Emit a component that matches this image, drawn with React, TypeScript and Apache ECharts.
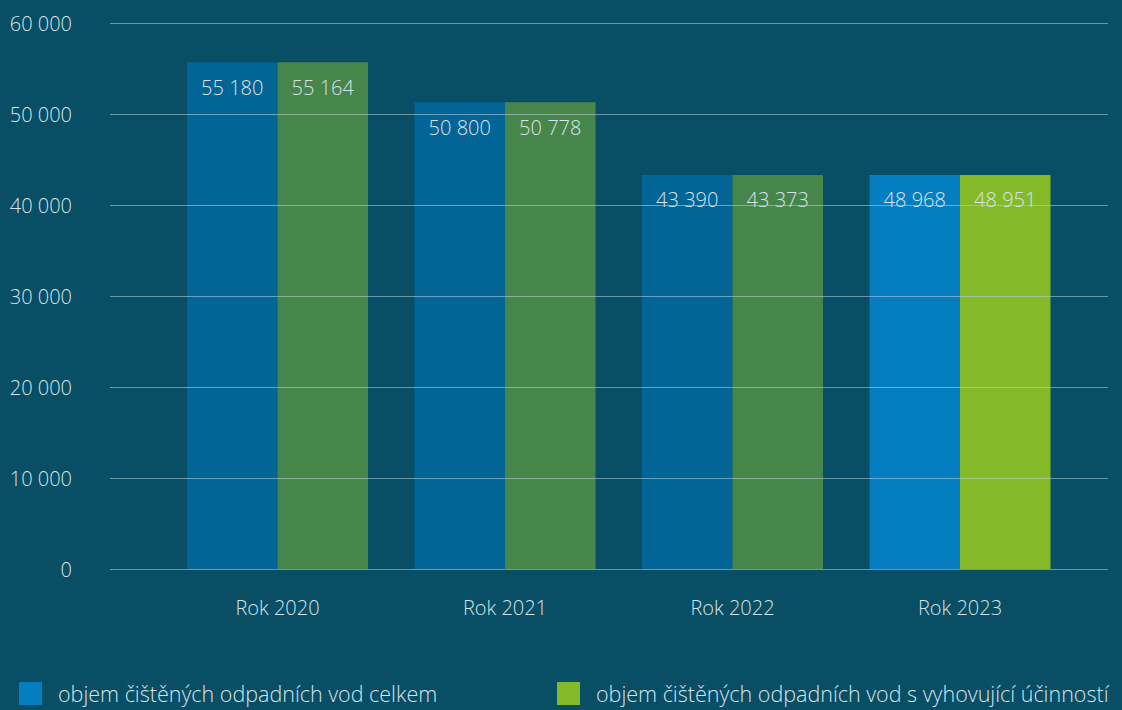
import React, { useEffect, useRef } from "react";
import * as echarts from "echarts";

const categories = ["Rok 2020", "Rok 2021", "Rok 2022", "Rok 2023"];
// printed values
const totalLabels = [55180, 50800, 43390, 48968];
const compliantLabels = [55164, 50778, 43373, 48951];
// bar heights as drawn in the picture
const totalHeights = [55700, 51300, 43300, 43300];
const compliantHeights = [55700, 51300, 43300, 43300];
const yTicks = [0, 10000, 20000, 30000, 40000, 50000, 60000];
const seriesNames = [
  "objem čištěných odpadních vod celkem",
  "objem čištěných odpadních vod s vyhovující účinností",
];

const BG = "#084e65";
const TEXT = "#d6e3ea";
const FONT = "'Open Sans', 'Noto Sans', sans-serif";
const blueOld = "#036496";
const greenOld = "#46864a";
const blueNew = "#047dc1";
const greenNew = "#84ba27";

const fmt = (v: number) => String(v).replace(/\B(?=(\d{3})+(?!\d))/g, " ");

export default function App() {
  const ref = useRef<HTMLDivElement>(null);
  useEffect(() => {
    const chart = echarts.init(ref.current!, null, { renderer: "svg" });
    const mk = (heights: number[], labels: number[], oldC: string, newC: string) =>
      heights.map((h, i) => ({
        value: h,
        label: { formatter: fmt(labels[i]) },
        itemStyle: { color: i === heights.length - 1 ? newC : oldC },
      }));
    const legendText = {
      color: TEXT,
      fontSize: 21.5,
      fontWeight: 300,
      fontFamily: FONT,
      lineHeight: 23,
      padding: [0, 0, 0, 11],
    };
    chart.setOption({
      animation: false,
      backgroundColor: BG,
      textStyle: { fontFamily: FONT },
      legend: [
        {
          left: 19,
          top: 682,
          padding: 0,
          itemWidth: 23,
          itemHeight: 23,
          icon: "rect",
          data: [{ name: seriesNames[0], itemStyle: { color: blueNew } }],
          textStyle: legendText,
          selectedMode: false,
        },
        {
          left: 557,
          top: 682,
          padding: 0,
          itemWidth: 23,
          itemHeight: 23,
          icon: "rect",
          data: [{ name: seriesNames[1], itemStyle: { color: greenNew } }],
          textStyle: legendText,
          selectedMode: false,
        },
      ],
      grid: [
        { left: 110, right: 14, top: 23, bottom: 141 },
        { left: 163.75, right: 48.25, top: 23, bottom: 141 },
      ],
      xAxis: [
        { gridIndex: 0, type: "category", data: [""], show: false },
        {
          gridIndex: 1,
          type: "category",
          data: categories,
          axisLine: { show: false },
          axisTick: { show: false },
          axisLabel: { color: TEXT, fontSize: 20, fontWeight: 300, fontFamily: FONT, margin: 28 },
        },
      ],
      yAxis: [
        {
          gridIndex: 0,
          type: "value",
          min: yTicks[0],
          max: yTicks[yTicks.length - 1],
          interval: yTicks[1] - yTicks[0],
          z: 10,
          axisLine: { show: false },
          axisTick: { show: false },
          splitLine: { lineStyle: { color: "rgba(190,210,220,0.55)", width: 1 } },
          axisLabel: {
            color: TEXT,
            fontSize: 20,
            fontWeight: 300,
            fontFamily: FONT,
            margin: 38,
            formatter: (v: number) => fmt(v),
          },
        },
        {
          gridIndex: 1,
          type: "value",
          min: yTicks[0],
          max: yTicks[yTicks.length - 1],
          show: false,
          splitLine: { show: false },
        },
      ],
      series: [
        {
          name: seriesNames[0],
          type: "bar",
          xAxisIndex: 1,
          yAxisIndex: 1,
          barWidth: 90.5,
          barGap: "0%",
          itemStyle: { color: blueNew },
          label: {
            show: true,
            position: "insideTop",
            distance: 15,
            color: TEXT,
            fontSize: 20,
            fontWeight: 300,
            fontFamily: FONT,
          },
          data: mk(totalHeights, totalLabels, blueOld, blueNew),
        },
        {
          name: seriesNames[1],
          type: "bar",
          xAxisIndex: 1,
          yAxisIndex: 1,
          barWidth: 90.5,
          barGap: "0%",
          itemStyle: { color: greenNew },
          label: {
            show: true,
            position: "insideTop",
            distance: 15,
            color: TEXT,
            fontSize: 20,
            fontWeight: 300,
            fontFamily: FONT,
          },
          data: mk(compliantHeights, compliantLabels, greenOld, greenNew),
        },
      ],
    });
    return () => chart.dispose();
  }, []);
  return (
    <div
      ref={ref}
      style={{ position: "absolute", left: 0, top: 0, width: 1122, height: 710 }}
    />
  );
}
